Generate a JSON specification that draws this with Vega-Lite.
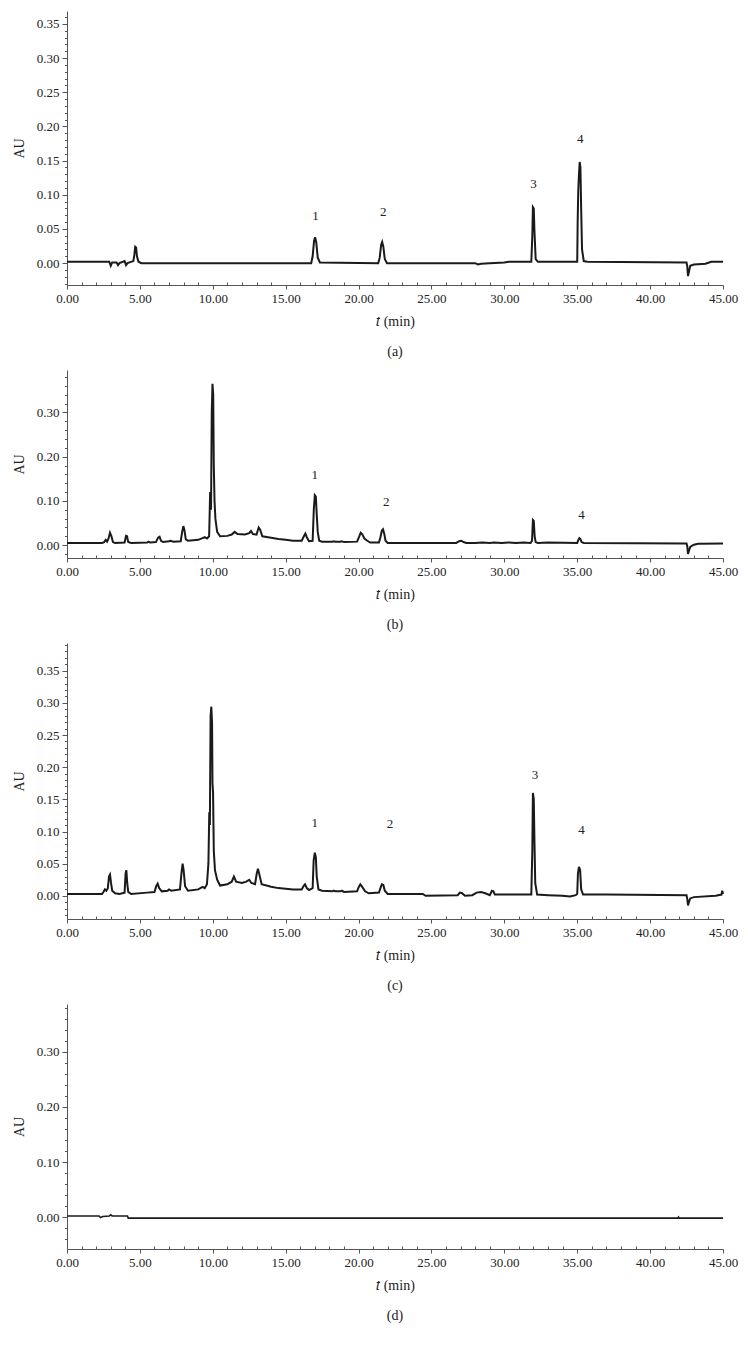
{
  "$schema": "https://vega.github.io/schema/vega-lite/v6.json",
  "padding": {"left": 12, "top": 11, "right": 5, "bottom": 5},
  "background": "white",
  "spacing": 85,
  "bounds": "flush",
  "datasets": {
    "a": [{"t":0,"au":0.002},{"t":2.9,"au":0.002},{"t":3.0,"au":-0.004},{"t":3.1,"au":0.001},{"t":3.4,"au":0.001},{"t":3.5,"au":-0.003},{"t":3.6,"au":0.0},{"t":3.95,"au":0.003},{"t":4.05,"au":-0.003},{"t":4.15,"au":0.0},{"t":4.55,"au":0.003},{"t":4.62,"au":0.012},{"t":4.68,"au":0.024},{"t":4.74,"au":0.023},{"t":4.8,"au":0.01},{"t":4.9,"au":0.002},{"t":5.1,"au":0.0},{"t":16.75,"au":0.0},{"t":16.85,"au":0.01},{"t":16.95,"au":0.033},{"t":17.02,"au":0.038},{"t":17.1,"au":0.03},{"t":17.2,"au":0.008},{"t":17.35,"au":0.001},{"t":21.35,"au":0.0},{"t":21.45,"au":0.008},{"t":21.55,"au":0.027},{"t":21.62,"au":0.031},{"t":21.7,"au":0.024},{"t":21.8,"au":0.006},{"t":21.95,"au":0.0},{"t":28.0,"au":0.0},{"t":28.2,"au":-0.002},{"t":28.4,"au":-0.001},{"t":29,"au":0.0},{"t":30,"au":0.001},{"t":30.3,"au":0.002},{"t":31.85,"au":0.002},{"t":31.92,"au":0.04},{"t":31.96,"au":0.082},{"t":32.02,"au":0.08},{"t":32.06,"au":0.05},{"t":32.1,"au":0.03},{"t":32.15,"au":0.006},{"t":32.3,"au":0.002},{"t":35.0,"au":0.002},{"t":35.03,"au":0.06},{"t":35.07,"au":0.105},{"t":35.12,"au":0.13},{"t":35.17,"au":0.148},{"t":35.22,"au":0.14},{"t":35.27,"au":0.08},{"t":35.33,"au":0.02},{"t":35.45,"au":0.003},{"t":35.7,"au":0.002},{"t":42.5,"au":0.001},{"t":42.55,"au":-0.005},{"t":42.6,"au":-0.019},{"t":42.65,"au":-0.014},{"t":42.75,"au":-0.004},{"t":43,"au":-0.002},{"t":43.8,"au":-0.001},{"t":44.2,"au":0.002},{"t":45,"au":0.002}],
    "aLab": [{"t":17.05,"au":0.069,"label":"1"},{"t":21.7,"au":0.075,"label":"2"},{"t":32.0,"au":0.116,"label":"3"},{"t":35.2,"au":0.182,"label":"4"}],
    "b": [{"t":0,"au":0.005},{"t":2.4,"au":0.005},{"t":2.55,"au":0.007},{"t":2.65,"au":0.012},{"t":2.75,"au":0.008},{"t":2.85,"au":0.015},{"t":2.95,"au":0.028},{"t":3.05,"au":0.02},{"t":3.15,"au":0.007},{"t":3.3,"au":0.005},{"t":3.95,"au":0.006},{"t":4.05,"au":0.021},{"t":4.12,"au":0.02},{"t":4.2,"au":0.007},{"t":4.4,"au":0.005},{"t":5.5,"au":0.006},{"t":5.6,"au":0.008},{"t":5.7,"au":0.006},{"t":6.1,"au":0.007},{"t":6.25,"au":0.017},{"t":6.35,"au":0.019},{"t":6.45,"au":0.01},{"t":6.6,"au":0.007},{"t":7.0,"au":0.009},{"t":7.1,"au":0.01},{"t":7.3,"au":0.008},{"t":7.8,"au":0.009},{"t":7.9,"au":0.03},{"t":7.98,"au":0.043},{"t":8.05,"au":0.035},{"t":8.15,"au":0.013},{"t":8.3,"au":0.01},{"t":9.0,"au":0.012},{"t":9.3,"au":0.016},{"t":9.45,"au":0.018},{"t":9.6,"au":0.015},{"t":9.75,"au":0.02},{"t":9.82,"au":0.12},{"t":9.88,"au":0.08},{"t":9.93,"au":0.3},{"t":9.98,"au":0.365},{"t":10.03,"au":0.34},{"t":10.07,"au":0.18},{"t":10.12,"au":0.1},{"t":10.18,"au":0.06},{"t":10.3,"au":0.03},{"t":10.5,"au":0.02},{"t":11.0,"au":0.021},{"t":11.3,"au":0.024},{"t":11.5,"au":0.03},{"t":11.7,"au":0.025},{"t":12.2,"au":0.024},{"t":12.5,"au":0.027},{"t":12.62,"au":0.032},{"t":12.75,"au":0.025},{"t":13.0,"au":0.024},{"t":13.15,"au":0.04},{"t":13.25,"au":0.035},{"t":13.4,"au":0.02},{"t":14.0,"au":0.017},{"t":14.5,"au":0.014},{"t":15.0,"au":0.012},{"t":15.5,"au":0.01},{"t":16.1,"au":0.01},{"t":16.25,"au":0.02},{"t":16.35,"au":0.026},{"t":16.45,"au":0.018},{"t":16.6,"au":0.009},{"t":16.85,"au":0.01},{"t":16.93,"au":0.08},{"t":17.0,"au":0.113},{"t":17.07,"au":0.11},{"t":17.13,"au":0.07},{"t":17.2,"au":0.03},{"t":17.3,"au":0.01},{"t":17.5,"au":0.008},{"t":18.2,"au":0.008},{"t":18.3,"au":0.009},{"t":18.4,"au":0.008},{"t":18.75,"au":0.008},{"t":18.85,"au":0.009},{"t":19.0,"au":0.007},{"t":19.9,"au":0.008},{"t":20.05,"au":0.02},{"t":20.15,"au":0.028},{"t":20.25,"au":0.025},{"t":20.4,"au":0.015},{"t":20.6,"au":0.01},{"t":20.8,"au":0.006},{"t":21.4,"au":0.006},{"t":21.5,"au":0.018},{"t":21.6,"au":0.033},{"t":21.68,"au":0.036},{"t":21.76,"au":0.026},{"t":21.85,"au":0.01},{"t":22.0,"au":0.005},{"t":26.7,"au":0.005},{"t":26.9,"au":0.009},{"t":27.05,"au":0.01},{"t":27.2,"au":0.007},{"t":27.4,"au":0.005},{"t":28.0,"au":0.005},{"t":28.5,"au":0.006},{"t":29.0,"au":0.005},{"t":29.3,"au":0.006},{"t":29.8,"au":0.005},{"t":30.3,"au":0.006},{"t":30.8,"au":0.005},{"t":31.3,"au":0.006},{"t":31.8,"au":0.005},{"t":31.9,"au":0.01},{"t":31.96,"au":0.057},{"t":32.02,"au":0.055},{"t":32.08,"au":0.02},{"t":32.15,"au":0.007},{"t":32.3,"au":0.005},{"t":33,"au":0.006},{"t":35.0,"au":0.005},{"t":35.08,"au":0.012},{"t":35.15,"au":0.016},{"t":35.22,"au":0.014},{"t":35.3,"au":0.007},{"t":35.45,"au":0.005},{"t":42.5,"au":0.004},{"t":42.55,"au":-0.003},{"t":42.6,"au":-0.02},{"t":42.66,"au":-0.013},{"t":42.75,"au":-0.004},{"t":43,"au":0.001},{"t":43.3,"au":0.003},{"t":45,"au":0.004}],
    "bLab": [{"t":17.0,"au":0.158,"label":"1"},{"t":21.9,"au":0.098,"label":"2"},{"t":35.3,"au":0.068,"label":"4"}],
    "c": [{"t":0,"au":0.003},{"t":2.4,"au":0.003},{"t":2.5,"au":0.006},{"t":2.6,"au":0.01},{"t":2.7,"au":0.008},{"t":2.8,"au":0.012},{"t":2.88,"au":0.03},{"t":2.95,"au":0.033},{"t":3.02,"au":0.02},{"t":3.1,"au":0.008},{"t":3.3,"au":0.004},{"t":3.6,"au":0.003},{"t":3.95,"au":0.005},{"t":4.02,"au":0.035},{"t":4.07,"au":0.04},{"t":4.13,"au":0.02},{"t":4.2,"au":0.006},{"t":4.4,"au":0.003},{"t":5.5,"au":0.005},{"t":6.0,"au":0.006},{"t":6.12,"au":0.015},{"t":6.22,"au":0.019},{"t":6.32,"au":0.012},{"t":6.5,"au":0.007},{"t":6.9,"au":0.008},{"t":7.0,"au":0.01},{"t":7.15,"au":0.008},{"t":7.75,"au":0.01},{"t":7.85,"au":0.035},{"t":7.93,"au":0.05},{"t":8.0,"au":0.04},{"t":8.1,"au":0.015},{"t":8.3,"au":0.008},{"t":9.0,"au":0.01},{"t":9.3,"au":0.014},{"t":9.45,"au":0.012},{"t":9.6,"au":0.018},{"t":9.7,"au":0.05},{"t":9.76,"au":0.13},{"t":9.8,"au":0.11},{"t":9.85,"au":0.28},{"t":9.9,"au":0.294},{"t":9.95,"au":0.27},{"t":9.98,"au":0.175},{"t":10.02,"au":0.16},{"t":10.07,"au":0.07},{"t":10.15,"au":0.04},{"t":10.3,"au":0.025},{"t":10.5,"au":0.016},{"t":11.0,"au":0.018},{"t":11.3,"au":0.022},{"t":11.45,"au":0.03},{"t":11.6,"au":0.022},{"t":12.0,"au":0.02},{"t":12.3,"au":0.022},{"t":12.5,"au":0.025},{"t":12.65,"au":0.02},{"t":12.9,"au":0.018},{"t":13.02,"au":0.035},{"t":13.1,"au":0.042},{"t":13.2,"au":0.033},{"t":13.35,"au":0.018},{"t":14.0,"au":0.014},{"t":14.5,"au":0.012},{"t":15.0,"au":0.011},{"t":15.5,"au":0.01},{"t":16.1,"au":0.01},{"t":16.25,"au":0.016},{"t":16.33,"au":0.018},{"t":16.45,"au":0.012},{"t":16.6,"au":0.009},{"t":16.85,"au":0.012},{"t":16.92,"au":0.055},{"t":17.0,"au":0.067},{"t":17.07,"au":0.06},{"t":17.13,"au":0.03},{"t":17.25,"au":0.01},{"t":17.5,"au":0.008},{"t":18.2,"au":0.007},{"t":18.3,"au":0.008},{"t":18.4,"au":0.007},{"t":18.75,"au":0.007},{"t":18.85,"au":0.008},{"t":19.0,"au":0.006},{"t":19.9,"au":0.007},{"t":20.0,"au":0.013},{"t":20.12,"au":0.018},{"t":20.25,"au":0.014},{"t":20.45,"au":0.007},{"t":20.7,"au":0.004},{"t":21.4,"au":0.005},{"t":21.5,"au":0.012},{"t":21.6,"au":0.018},{"t":21.7,"au":0.017},{"t":21.8,"au":0.008},{"t":22.0,"au":0.003},{"t":24.4,"au":0.003},{"t":24.6,"au":0.0},{"t":26.8,"au":0.001},{"t":26.95,"au":0.005},{"t":27.1,"au":0.004},{"t":27.3,"au":0.0},{"t":27.8,"au":0.001},{"t":28.1,"au":0.005},{"t":28.4,"au":0.006},{"t":28.7,"au":0.004},{"t":29.0,"au":0.001},{"t":29.15,"au":0.008},{"t":29.25,"au":0.007},{"t":29.35,"au":0.002},{"t":30.0,"au":0.002},{"t":31.0,"au":0.002},{"t":31.85,"au":0.002},{"t":31.92,"au":0.07},{"t":31.96,"au":0.16},{"t":32.02,"au":0.15},{"t":32.07,"au":0.08},{"t":32.12,"au":0.02},{"t":32.25,"au":0.002},{"t":33.0,"au":0.001},{"t":34.0,"au":0.0},{"t":34.5,"au":-0.001},{"t":34.9,"au":0.001},{"t":35.0,"au":0.003},{"t":35.05,"au":0.035},{"t":35.12,"au":0.045},{"t":35.2,"au":0.04},{"t":35.27,"au":0.01},{"t":35.4,"au":0.002},{"t":37,"au":0.002},{"t":42.5,"au":0.001},{"t":42.55,"au":-0.005},{"t":42.6,"au":-0.015},{"t":42.66,"au":-0.01},{"t":42.75,"au":-0.004},{"t":43,"au":-0.002},{"t":44.5,"au":0.0},{"t":44.9,"au":0.002},{"t":44.95,"au":0.008},{"t":45,"au":0.003}],
    "cLab": [{"t":17.0,"au":0.113,"label":"1"},{"t":22.15,"au":0.112,"label":"2"},{"t":32.1,"au":0.188,"label":"3"},{"t":35.3,"au":0.102,"label":"4"}],
    "d": [{"t":0,"au":0.002},{"t":2.2,"au":0.002},{"t":2.3,"au":-0.001},{"t":2.45,"au":0.001},{"t":2.9,"au":0.002},{"t":3.0,"au":0.004},{"t":3.1,"au":0.002},{"t":4.15,"au":0.002},{"t":4.2,"au":-0.002},{"t":41.9,"au":-0.002},{"t":41.95,"au":0.0},{"t":42.0,"au":-0.002},{"t":45,"au":-0.002}]
  },
  "vconcat": [
    {
      "width": 656, "height": 274,
      "title": {"text": "(a)"},
      "encoding": {
        "x": {"field": "t", "type": "quantitative", "scale": {"domain": [0, 45], "nice": false, "zero": false},
          "axis": {"title": "𝑡 (min)", "values": [0,1,2,3,4,5,6,7,8,9,10,11,12,13,14,15,16,17,18,19,20,21,22,23,24,25,26,27,28,29,30,31,32,33,34,35,36,37,38,39,40,41,42,43,44,45],
            "labelExpr": "datum.value % 5 == 0 ? format(datum.value, '.2f') : ''",
            "tickSize": {"condition": {"test": "datum.value % 5 == 0", "value": 4}, "value": -3}}},
        "y": {"field": "au", "type": "quantitative", "scale": {"domain": [-0.032, 0.369], "nice": false, "zero": false},
          "axis": {"title": "AU", "values": [-0.03,-0.02,-0.01,0,0.01,0.02,0.03,0.04,0.05,0.06,0.07,0.08,0.09,0.1,0.11,0.12,0.13,0.14,0.15,0.16,0.17,0.18,0.19,0.2,0.21,0.22,0.23,0.24,0.25,0.26,0.27,0.28,0.29,0.3,0.31,0.32,0.33,0.34,0.35,0.36],
            "labelExpr": "abs(datum.value*20 - round(datum.value*20)) < 0.001 ? format(datum.value, '.2f') : ''",
            "tickSize": {"condition": {"test": "abs(datum.value*20 - round(datum.value*20)) < 0.001", "value": 5}, "value": 2.5}}}
      },
      "layer": [
        {"data": {"name": "a"}, "mark": {"type": "line"}},
        {"data": {"name": "aLab"}, "mark": {"type": "text"}, "encoding": {"text": {"field": "label"}}}
      ]
    },
    {
      "width": 656, "height": 188,
      "title": {"text": "(b)"},
      "encoding": {
        "x": {"field": "t", "type": "quantitative", "scale": {"domain": [0, 45], "nice": false, "zero": false},
          "axis": {"title": "𝑡 (min)", "values": [0,1,2,3,4,5,6,7,8,9,10,11,12,13,14,15,16,17,18,19,20,21,22,23,24,25,26,27,28,29,30,31,32,33,34,35,36,37,38,39,40,41,42,43,44,45],
            "labelExpr": "datum.value % 5 == 0 ? format(datum.value, '.2f') : ''",
            "tickSize": {"condition": {"test": "datum.value % 5 == 0", "value": 4}, "value": -3}}},
        "y": {"field": "au", "type": "quantitative", "scale": {"domain": [-0.029, 0.396], "nice": false, "zero": false},
          "axis": {"title": "AU", "values": [-0.02,0,0.02,0.04,0.06,0.08,0.1,0.12,0.14,0.16,0.18,0.2,0.22,0.24,0.26,0.28,0.3,0.32,0.34,0.36,0.38],
            "labelExpr": "abs(datum.value*10 - round(datum.value*10)) < 0.001 ? format(datum.value, '.2f') : ''",
            "tickSize": {"condition": {"test": "abs(datum.value*10 - round(datum.value*10)) < 0.001", "value": 5}, "value": 2.5}}}
      },
      "layer": [
        {"data": {"name": "b"}, "mark": {"type": "line"}},
        {"data": {"name": "bLab"}, "mark": {"type": "text"}, "encoding": {"text": {"field": "label"}}}
      ]
    },
    {
      "width": 656, "height": 276,
      "title": {"text": "(c)"},
      "encoding": {
        "x": {"field": "t", "type": "quantitative", "scale": {"domain": [0, 45], "nice": false, "zero": false},
          "axis": {"title": "𝑡 (min)", "values": [0,1,2,3,4,5,6,7,8,9,10,11,12,13,14,15,16,17,18,19,20,21,22,23,24,25,26,27,28,29,30,31,32,33,34,35,36,37,38,39,40,41,42,43,44,45],
            "labelExpr": "datum.value % 5 == 0 ? format(datum.value, '.2f') : ''",
            "tickSize": {"condition": {"test": "datum.value % 5 == 0", "value": 4}, "value": -3}}},
        "y": {"field": "au", "type": "quantitative", "scale": {"domain": [-0.036, 0.393], "nice": false, "zero": false},
          "axis": {"title": "AU", "values": [-0.03,-0.02,-0.01,0,0.01,0.02,0.03,0.04,0.05,0.06,0.07,0.08,0.09,0.1,0.11,0.12,0.13,0.14,0.15,0.16,0.17,0.18,0.19,0.2,0.21,0.22,0.23,0.24,0.25,0.26,0.27,0.28,0.29,0.3,0.31,0.32,0.33,0.34,0.35,0.36,0.37,0.38,0.39],
            "labelExpr": "abs(datum.value*20 - round(datum.value*20)) < 0.001 ? format(datum.value, '.2f') : ''",
            "tickSize": {"condition": {"test": "abs(datum.value*20 - round(datum.value*20)) < 0.001", "value": 5}, "value": 2.5}}}
      },
      "layer": [
        {"data": {"name": "c"}, "mark": {"type": "line"}},
        {"data": {"name": "cLab"}, "mark": {"type": "text"}, "encoding": {"text": {"field": "label"}}}
      ]
    },
    {
      "width": 656, "height": 245,
      "title": {"text": "(d)"},
      "encoding": {
        "x": {"field": "t", "type": "quantitative", "scale": {"domain": [0, 45], "nice": false, "zero": false},
          "axis": {"title": "𝑡 (min)", "values": [0,1,2,3,4,5,6,7,8,9,10,11,12,13,14,15,16,17,18,19,20,21,22,23,24,25,26,27,28,29,30,31,32,33,34,35,36,37,38,39,40,41,42,43,44,45],
            "labelExpr": "datum.value % 5 == 0 ? format(datum.value, '.2f') : ''",
            "tickSize": {"condition": {"test": "datum.value % 5 == 0", "value": 4}, "value": -3}}},
        "y": {"field": "au", "type": "quantitative", "scale": {"domain": [-0.058, 0.387], "nice": false, "zero": false},
          "axis": {"title": "AU", "values": [-0.04,-0.02,0,0.02,0.04,0.06,0.08,0.1,0.12,0.14,0.16,0.18,0.2,0.22,0.24,0.26,0.28,0.3,0.32,0.34,0.36,0.38],
            "labelExpr": "abs(datum.value*10 - round(datum.value*10)) < 0.001 ? format(datum.value, '.2f') : ''",
            "tickSize": {"condition": {"test": "abs(datum.value*10 - round(datum.value*10)) < 0.001", "value": 5}, "value": 2.5}}}
      },
      "layer": [
        {"data": {"name": "d"}, "mark": {"type": "line", "strokeWidth": 1.6}}
      ]
    }
  ],
  "config": {
    "view": {"stroke": null},
    "font": "Liberation Serif",
    "axis": {"labelFont": "Liberation Serif", "labelFontSize": 13, "labelColor": "#222", "labelPadding": 3, "titleFont": "Liberation Serif", "titleFontSize": 14, "titleFontWeight": "normal", "titleColor": "#222", "domainColor": "#555", "tickColor": "#555", "grid": false, "labelOverlap": false, "labelFlush": false, "labelBound": false},
    "axisY": {"titlePadding": 10},
    "axisX": {"titlePadding": 9},
    "title": {"font": "Liberation Serif", "fontSize": 14, "fontWeight": "normal", "orient": "bottom", "color": "#222", "offset": 17},
    "line": {"color": "#1a1a1a", "strokeWidth": 2},
    "text": {"font": "Liberation Serif", "fontSize": 13, "color": "#222"}
  }
}
